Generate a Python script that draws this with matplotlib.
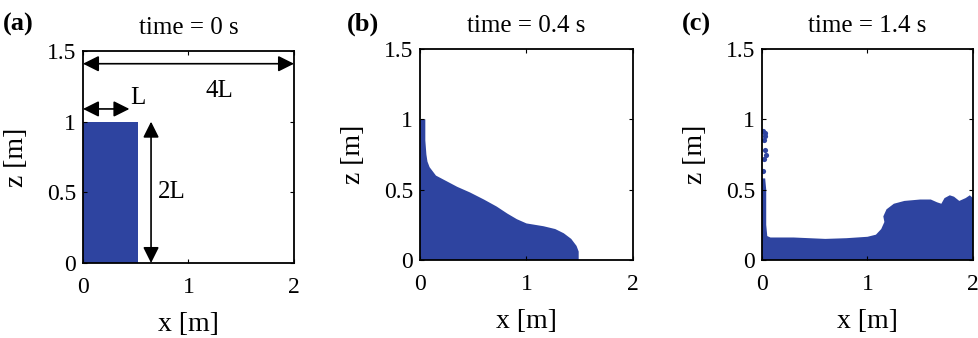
import matplotlib.pyplot as plt

plt.rcParams['font.family'] = ['Liberation Serif', 'DejaVu Serif']

W, H = 979, 338
blue = '#2e44a0'

titles = ['time = 0 s', 'time = 0.4 s', 'time = 1.4 s']
panel_tags = ['(a)', '(b)', '(c)']
x_ticks = [0, 1, 2]
z_ticks = [0, 0.5, 1, 1.5]
z_ticklabels = ['0', '0.5', '1', '1.5']

# water column at t = 0 (x, z outline)
water_a_x = [0, 0.52, 0.52, 0]
water_a_z = [0, 0, 1.0, 1.0]

# free surface at t = 0.4 s
surf_b_x = [0, 0.05, 0.05, 0.06, 0.07, 0.09, 0.15, 0.25, 0.35, 0.47, 0.60,
            0.72, 0.82, 0.91, 1.00, 1.16, 1.27, 1.35, 1.42, 1.47, 1.49, 1.49]
surf_b_z = [1.00, 1.00, 0.85, 0.75, 0.70, 0.66, 0.60, 0.56, 0.52, 0.48, 0.43,
            0.38, 0.33, 0.29, 0.26, 0.24, 0.22, 0.19, 0.15, 0.10, 0.06, 0.0]

# free surface at t = 1.4 s
surf_c_x = [0, 0.03, 0.04, 0.04, 0.05, 0.08, 0.30, 0.60, 0.80, 1.00, 1.08,
            1.13, 1.16, 1.15, 1.18, 1.25, 1.35, 1.50, 1.60, 1.66, 1.70, 1.73,
            1.78, 1.82, 1.87, 1.93, 1.97, 2.0, 2.0]
surf_c_z = [0.58, 0.58, 0.50, 0.25, 0.17, 0.16, 0.16, 0.15, 0.155, 0.165, 0.18,
            0.22, 0.27, 0.31, 0.36, 0.40, 0.42, 0.43, 0.43, 0.41, 0.40, 0.44,
            0.46, 0.45, 0.42, 0.44, 0.46, 0.44, 0.0]
drops_c_x = [0.01, 0.03, 0.02, 0.03, 0.04, 0.02, 0.01, 0.03]
drops_c_z = [0.92, 0.90, 0.85, 0.78, 0.75, 0.72, 0.63, 0.88]

fig = plt.figure(figsize=(W / 100, H / 100), dpi=100)

boxes = [(83, 51, 294, 263), (420, 49, 633, 260), (762, 49, 973, 260)]
tag_pos = [(3, 31), (347, 31), (682, 31)]
axes = []
for (l, t, r, b) in boxes:
    ax = fig.add_axes([l / W, 1 - b / H, (r - l) / W, (b - t) / H])
    ax.set_xlim(0, 2)
    ax.set_ylim(0, 1.5)
    ax.set_xticks(x_ticks)
    ax.set_xticklabels([str(v) for v in x_ticks])
    ax.set_yticks(z_ticks)
    ax.set_yticklabels(z_ticklabels)
    ax.tick_params(direction='in', top=True, right=True, labelsize=17,
                   length=3, width=0.8, pad=10)
    ax.tick_params(axis='y', pad=5)
    for s in ax.spines.values():
        s.set_linewidth(1.3)
    ax.set_xlabel('x [m]', fontsize=20, labelpad=10)
    ax.set_ylabel('z [m]', fontsize=20, labelpad=13)
    axes.append(ax)

for ax, title, tag, (tx, ty) in zip(axes, titles, panel_tags, tag_pos):
    ax.set_title(title, fontsize=18, pad=12)
    fig.text(tx / W, 1 - ty / H, tag, fontsize=19, fontweight='bold')

ax = axes[0]
ax.fill(water_a_x, water_a_z, color=blue, lw=0)
arrow = dict(arrowstyle='<|-|>', color='black', lw=1.2,
             mutation_scale=24, shrinkA=0, shrinkB=0)
ax.annotate('', xy=(0, 1.41), xytext=(2, 1.41), arrowprops=arrow)
ax.annotate('', xy=(0, 1.09), xytext=(0.44, 1.09), arrowprops=arrow)
ax.annotate('', xy=(0.645, 0.0), xytext=(0.645, 1.0), arrowprops=arrow)
ax.text(1.29, 1.22, '4L', fontsize=18, ha='center', va='center')
ax.text(0.52, 1.17, 'L', fontsize=18, ha='center', va='center')
ax.text(0.71, 0.5, '2L', fontsize=18, ha='left', va='center')

axes[1].fill(surf_b_x + [0], surf_b_z + [0], color=blue, lw=0)

axes[2].fill(surf_c_x + [0], surf_c_z + [0], color=blue, lw=0)
axes[2].scatter(drops_c_x, drops_c_z, s=14, color=blue, lw=0)

fig.savefig('out.png', dpi=100)
